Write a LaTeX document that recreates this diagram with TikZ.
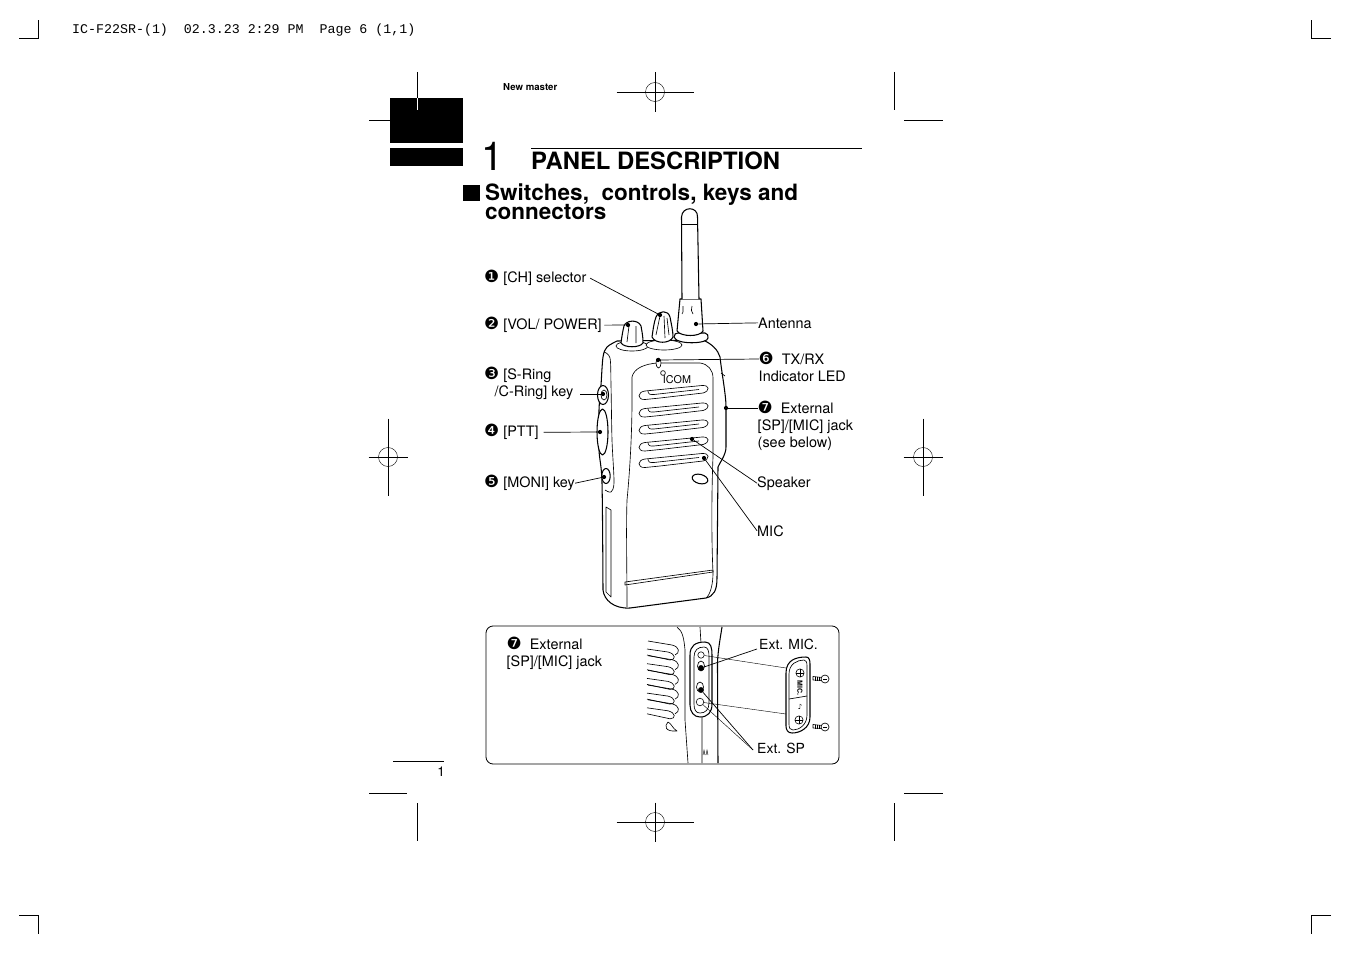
\documentclass[tikz,border=0pt]{standalone}
\usepackage{fontspec}
\setmainfont{TeX Gyre Heros}
\setmonofont{Liberation Mono}
\newfontfamily\dingfont{DejaVu Sans}
\usetikzlibrary{positioning}
\setlength{\lineskiplimit}{-20pt}
\newcommand{\lblfont}{\fontsize{12.3}{14.6}\selectfont}
\newcommand{\numdot}[1]{\smash{\dingfont\fontsize{14.4}{14.6}\selectfont #1}}
\tikzset{
	lbl/.style={font=\lblfont, inner sep=0pt, anchor=base west, align=left},
	multilbl/.style={font=\lblfont, inner sep=0pt, anchor=north west, align=left},
	leader/.style={draw, line width=0.6pt},
	hair/.style={draw, line width=0.35pt},
	outline/.style={draw, line width=0.9pt, line join=round},
	fine/.style={draw, line width=0.55pt, line join=round},
	dot/.style={circle, fill, inner sep=0pt, minimum size=3.6pt},
	ring/.style={circle, draw, line width=0.5pt, inner sep=0pt},
	crop/.style={draw, line width=0.55pt}
}

\begin{document}
\begin{tikzpicture}[x=0.03cm, y=-0.03cm]
	\useasboundingbox (0,0) rectangle (1351,954);

	% crop marks
	\draw[crop] (19,38) -- (38,38) -- (38,20);
	\draw[crop] (1331,38) -- (1311,38) -- (1311,20);
	\draw[crop] (19,915) -- (38,915) -- (38,934);
	\draw[crop] (1331,915) -- (1311,915) -- (1311,934);
	\draw[crop] (417,72) -- (417,98);
	\draw[crop] (369,120) -- (390,120);
	\draw[crop] (894,72) -- (894,110);
	\draw[crop] (904,120) -- (943,120);
	\draw[crop] (417,803) -- (417,841);
	\draw[crop] (369,793) -- (407,793);
	\draw[crop] (894,803) -- (894,841);
	\draw[crop] (904,793) -- (943,793);
	\foreach \cx/\cy/\rx/\ry in {655/92/38.5/19.5,655/822/38.5/19.5,388/457/19.5/38.5,923/457/19.5/38.5}{
		\draw[hair] (\cx-\rx,\cy) -- (\cx+\rx,\cy);
		\draw[hair] (\cx,\cy-\ry) -- (\cx,\cy+\ry);
		\draw[hair] (\cx,\cy) circle[radius=9.5];
	}

	% page head
	\node[inner sep=0pt, anchor=base west, font=\ttfamily\fontsize{11.35}{13}\selectfont] (slug) at (72,34) {IC-F22SR-(1)\ \ 02.3.23 2:29 PM\ \ Page 6 (1,1)};
	\node[inner sep=0pt, anchor=base west, font=\bfseries\fontsize{8.2}{9}\selectfont] (master) at (503,90) {New master};
	\fill (390,98) rectangle (463,143);
	\fill (390,148) rectangle (463,166);
	\draw[white, line width=0.55pt] (417,98) -- (417,110);
	\node[inner sep=0pt, anchor=base west, font=\fontsize{34}{36}\selectfont] (chapno) at (481,170) {1};
	\draw[line width=0.7pt] (531,148) -- (862,148);
	\node[inner sep=0pt, anchor=base west, font=\bfseries\fontsize{20.35}{24}\selectfont] (chaptitle) at (531,169.5) {PANEL DESCRIPTION};
	\fill (463,185) rectangle (480,201);
	\node[inner sep=0pt, anchor=north west, align=left, font=\bfseries\fontsize{19.2}{16.2}\selectfont] (sectitle) at (485,184) {Switches,\ \ controls, keys and\\connectors};
	\draw[line width=0.6pt] (393,761) -- (444,761);
	\node[inner sep=0pt, anchor=base east, font=\fontsize{11.5}{13}\selectfont] (pageno) at (445,776) {1};

	% radio body
	\draw[outline, fill=white] plot[smooth] coordinates {(617,341) (607,347) (603,357) (601,385) (599,410) (599,450) (602,483) (603,590)}
		.. controls (604,600) and (614,609) .. (630,608) -- (706,598) .. controls (714,596) and (717,590) .. (717,578)
		-- (718,467) .. controls (720,462) and (726,455) .. (726,447) -- (726,407) .. controls (726,395) and (722,375) .. (720,357)
		.. controls (718,350) and (712,344) .. (703,340) -- cycle;
	\draw[fine] plot[smooth] coordinates {(604,352) (610,358) (611,385) (612,440) (614,482) (611,492) (605,490)};
	\draw[fine] (721,373) -- (725,376);
	% front plate
	\draw[fine] (627,607) .. controls (627,570) and (626,530) .. (627,500) .. controls (629,480) and (632,440) .. (632,400) -- (632,377)
		.. controls (634,368) and (645,364) .. (657,363) -- (700,363) .. controls (708,364) and (713,370) .. (713,378)
		-- (713,457) .. controls (712,480) and (711,530) .. (713,573) .. controls (713,585) and (710,595) .. (706,598);
	% speaker slots
	\foreach \sy in {0,17.5,34.5,51.5,68}{
		\begin{scope}[shift={(0,\sy)}]
			\draw[fine] (645,391) -- (702,385.5) .. controls (710,385) and (710,391) .. (703,393) -- (660,398) -- (645,399.5) .. controls (637,400) and (637,392) .. (645,391);
			\draw[fine] (648,391) .. controls (648,394) and (650,395) .. (654,394.5) -- (699,389.5);
		\end{scope}
	}
	\draw[outline, rotate around={-14:(700,479)}] (700,479) ellipse[x radius=8, y radius=4.6];
	\draw[fine] (625,582) -- (713,570) -- (713,572) -- (625,585) -- cycle;
	\draw[fine] (606,507) -- (611,510) -- (611,597) -- (606,592) -- cycle;
	% knobs and antenna
	\draw[fine, fill=white] (632,346) ellipse[x radius=16, y radius=5];
	\draw[fine, fill=white] (664,345) ellipse[x radius=18, y radius=5];
	\draw[outline, fill=white] (621,343) .. controls (622,335) and (623,330) .. (624,326) .. controls (626,320) and (638,319) .. (641,326) .. controls (642,332) and (643,336) .. (643,343) .. controls (640,348) and (624,348) .. (621,343) -- cycle;
	\draw[fine] (627,342) -- (629,326) (636,343) -- (636,326);
	\draw[outline, fill=white] (652,337) .. controls (653,330) and (654,322) .. (656,317) .. controls (659,310) and (668,310) .. (670,317) .. controls (671,323) and (673,330) .. (673,337) .. controls (670,344) and (655,344) .. (652,337) -- cycle;
	\draw[fine] (656,335) -- (660,316) (665,338) -- (664,316) (669,335) -- (667,318);
	\draw[outline, fill=white] (674,337) .. controls (674,334) and (676,333) .. (678,333) -- (705,333) .. controls (708,333) and (708,336) .. (708,338) .. controls (708,344) and (676,345) .. (674,337) -- cycle;
	\draw[outline, fill=white] (680,299) -- (701,299) -- (703,331) .. controls (700,337) and (681,337) .. (677,331) -- cycle;
	\draw[outline, fill=white] (682,299) -- (681.5,217) .. controls (682,206) and (698,206) .. (697.5,217) -- (699,299);
	\draw[fine] (682,224) -- (698,224);
	\draw[fine] (683,306) -- (683,312) -- (682,314) (692,306) .. controls (691,309) and (691,312) .. (693,314);
	% buttons
	\draw[outline, fill=white] (603,395) ellipse[x radius=5.5, y radius=9.5];
	\draw[fine] (604,395) ellipse[x radius=3, y radius=5];
	\draw[outline, fill=white] (602.5,432) ellipse[x radius=5.5, y radius=23];
	\draw[outline, fill=white] (606,476) ellipse[x radius=4.2, y radius=7.5];
	% led
	\draw[fine, fill=white] (658.5,363) ellipse[x radius=2.5, y radius=5];
	\draw[fine] (663,373) circle[radius=2.4];
	\node[inner sep=0pt, font=\fontsize{9.2}{11}\selectfont] (logo) at (677,380) {ICOM};

	% labels
	\node[lbl] (lblch) at (484,282) {\numdot{❶}\ [CH] selector};
	\node[lbl] (lblvol) at (484,329) {\numdot{❷}\ [VOL/ POWER]};
	\node[multilbl] (lblring) at (484,368.5) {\numdot{❸}\ [S-Ring\\\ \ \,/C-Ring] key};
	\node[lbl] (lblptt) at (484,436) {\numdot{❹}\ [PTT]};
	\node[lbl] (lblmoni) at (484,487) {\numdot{❺}\ [MONI] key};
	\node[lbl] (lblant) at (758,328) {Antenna};
	\node[multilbl] (lblled) at (758.5,354) {\numdot{❻}\ \ TX/RX\\Indicator LED};
	\node[multilbl] (lbljack) at (757.5,403) {\numdot{❼}\ \ External\\{}[SP]/[MIC] jack\\(see below)};
	\node[lbl] (lblspk) at (757,487) {Speaker};
	\node[lbl] (lblmic) at (757,536) {MIC};

	\node[dot] (dch) at (660,315) {};
	\node[dot] (dvol) at (628,325) {};
	\node[dot] (dring) at (603,394) {};
	\node[dot] (dptt) at (600,432) {};
	\node[dot] (dmoni) at (604,477) {};
	\node[dot] (dant) at (696,324) {};
	\node[dot] (dled) at (658,360) {};
	\node[dot] (djack) at (726,408) {};
	\node[dot] (dspk) at (692,439) {};
	\node[dot] (dmic) at (704,458) {};
	\coordinate (ledend) at (759,359);
	\coordinate (jackend) at (758,408);
	\coordinate (ringend) at (580,394);

	\draw[leader] ([xshift=3pt]lblch.east) -- (dch);
	\draw[leader] ([xshift=2pt]lblvol.east) -- (dvol);
	\draw[leader] (ringend) -- (dring);
	\draw[leader] ([xshift=4pt]lblptt.east) -- (dptt);
	\draw[leader] (lblmoni.east) -- (dmoni);
	\draw[leader] (lblant.west) -- (dant);
	\draw[leader] (ledend) -- (dled);
	\draw[leader] (jackend) -- (djack);
	\draw[leader] (lblspk.west) -- (dspk);
	\draw[leader] (lblmic.west) -- (dmic);

	% inset
	\draw[line width=0.7pt, rounded corners=6] (486,626) rectangle (839,764);
	\node[multilbl] (lblinset) at (506.5,639) {\numdot{❼}\ \ External\\{}[SP]/[MIC] jack};
	\foreach \sy in {0,14.7,29.4,44.1,58.8}{
		\begin{scope}[shift={(0,\sy)}]
			\draw[fine] (648,641) -- (672,645) .. controls (680,647) and (680,653) .. (675,655);
			\draw[fine] (647,649) -- (668,652) .. controls (676,654) and (676,660) .. (670,660) -- (647,655);
		\end{scope}
	}
	\draw[fine] (668,722) .. controls (664,726) and (665,732) .. (677,731) .. controls (672,728) and (672,724) .. (668,722);
	\draw[fine] (677,627) .. controls (683,631) and (684,640) .. (685,650) -- (685,720) -- (688,763);
	\draw[fine] (700,627) -- (702,660) -- (702,763);
	\draw[line width=0.9pt] (722,627) .. controls (720,640) and (717,655) .. (717.5,670) -- (718,763);
	\draw[hair] (703,755) -- (704,750) -- (705,755) (706,755) -- (707,750) -- (708,755);
	% jack panel
	\draw[outline, fill=white] (690,655) .. controls (690,646) and (695,642) .. (705,642) .. controls (711,642) and (712,648) .. (712,655) -- (712,704) .. controls (712,712) and (708,717) .. (700,717) .. controls (694,717) and (690,712) .. (690,705) -- cycle;
	\draw[fine] (694,657) .. controls (694,650) and (698,647) .. (704,647) .. controls (708,647) and (709,651) .. (709,657) -- (709,703) .. controls (709,710) and (705,713) .. (700,713) .. controls (696,713) and (694,710) .. (694,704) -- cycle;
	\node[ring, minimum size=5.5pt] (screwa) at (701,655) {};
	\node[ring, minimum size=6.5pt] (screwb) at (700,702) {};
	\draw[fine] (701,666) ellipse[x radius=3.5, y radius=5];
	\draw[fine] (700,687) ellipse[x radius=3.5, y radius=5];
	\node[dot, minimum size=5pt] (dextmic) at (701,668) {};
	\node[dot, minimum size=5pt] (dextsp) at (701,690) {};
	% cover plate
	\draw[outline, fill=white] (786,673) .. controls (786,660) and (796,657) .. (806,657) .. controls (809,657) and (810,660) .. (810,664) -- (810,717) .. controls (810,728) and (800,733) .. (792,733) .. controls (788,733) and (786,730) .. (786,726) -- cycle;
	\draw[fine] (789,674) .. controls (789,664) and (797,660) .. (804,660) .. controls (806,660) and (807,662) .. (807,666) -- (807,715) .. controls (807,725) and (799,730) .. (793,730) .. controls (790,730) and (789,728) .. (789,724) -- cycle;
	\draw[fine] (789,699) -- (807,696);
	\node[ring, minimum size=7pt] (platea) at (800,673) {};
	\node[ring, minimum size=7pt] (plateb) at (799,720) {};
	\draw[hair] (platea.north) -- (platea.south) (platea.west) -- (platea.east);
	\draw[hair] (plateb.north) -- (plateb.south) (plateb.west) -- (plateb.east);
	\node[inner sep=0pt, rotate=-90, font=\bfseries\fontsize{6}{7}\selectfont] (platemic) at (800,688) {MIC.};
	\node[inner sep=0pt, font=\fontsize{6}{7}\selectfont] (platesp) at (800,707) {\dingfont ♪};
	\coordinate (platetl) at (786,668);
	\coordinate (platebl) at (786,714);
	\draw[hair] (screwa) -- (platetl);
	\draw[hair] (screwb) -- (platebl);
	% screws
	\foreach \sx/\sy in {825/679,825/727}{
		\draw[fine, fill=white] (\sx-12,\sy-2.5) -- (\sx-3,\sy-1.5) -- (\sx-3,\sy+1.5) -- (\sx-12,\sy+1) -- cycle;
		\foreach \hx in {-10,-8,-6,-4}{\draw[hair] (\sx+\hx,\sy-2) -- (\sx+\hx,\sy+1.5);}
		\draw[fine, fill=white] (\sx,\sy) circle[radius=4];
		\draw[hair] (\sx-2,\sy) -- (\sx+2,\sy);
	}
	\node[lbl, font=\fontsize{11.9}{14}\selectfont] (lblextmic) at (759,649) {Ext. MIC.};
	\node[lbl, font=\fontsize{11.9}{14}\selectfont] (lblextsp) at (757,753) {Ext. SP};
	\coordinate (extmicend) at (757,649);
	\coordinate (extspend) at (753,750);
	\draw[leader] (extmicend) -- (dextmic);
	\draw[leader] (extspend) -- (dextsp);
	\draw[hair] (extspend) -- (screwb);
\end{tikzpicture}
\end{document}
